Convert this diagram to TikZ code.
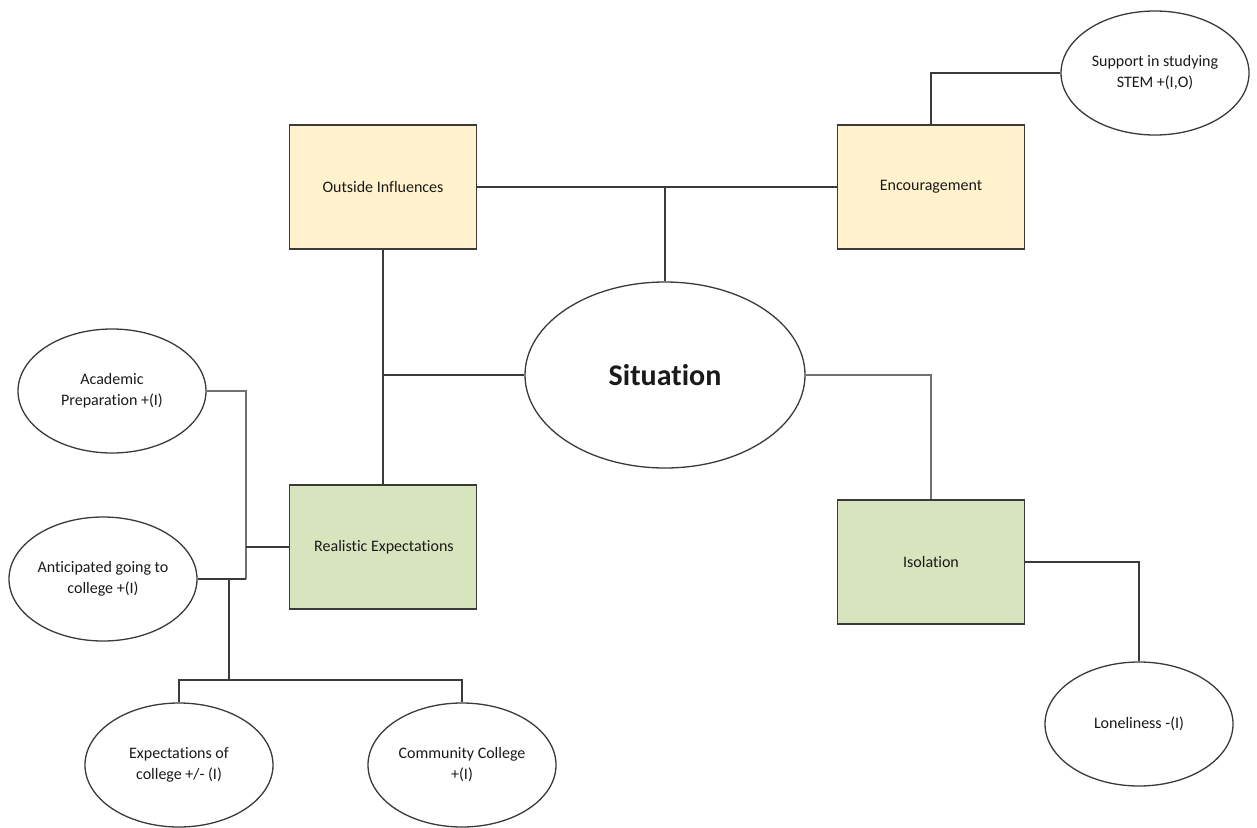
\documentclass[tikz,border=0pt]{standalone}
\usepackage{fontspec}
\setmainfont[Ligatures=NoCommon]{Carlito}
\usetikzlibrary{shapes.geometric}
\definecolor{boxyellow}{HTML}{FFF2CC}
\definecolor{boxgreen}{HTML}{D7E4BD}
\definecolor{edgegray}{HTML}{3A3A3A}
\definecolor{lightgray}{HTML}{707070}
\definecolor{txt}{HTML}{1A1A1A}
\tikzset{
  yellowbox/.style={draw=edgegray, line width=1.6pt, fill=boxyellow, minimum width=187pt, minimum height=124pt, inner sep=0pt, font=\fontsize{16}{19}\selectfont, text=txt},
  greenbox/.style={draw=edgegray, line width=1.6pt, fill=boxgreen, minimum width=187pt, minimum height=124pt, inner sep=0pt, font=\fontsize{16}{19}\selectfont, text=txt},
  smallell/.style={ellipse, draw=edgegray, line width=1.3pt, fill=white, minimum width=188pt, minimum height=124pt, inner sep=0pt, align=center, font=\fontsize{16}{21}\selectfont, text=txt},
  bigell/.style={ellipse, draw=edgegray, line width=1.3pt, fill=white, minimum width=280pt, minimum height=186pt, inner sep=0pt, font=\fontsize{30}{33}\selectfont\bfseries, text=txt},
  conn/.style={draw=edgegray, line width=1.6pt},
  lightconn/.style={draw=lightgray, line width=1.6pt}
}
\begin{document}
\begin{tikzpicture}[x=1pt, y=-1pt]
\useasboundingbox (0,0) rectangle (1257,827);
\fill[white] (0,0) rectangle (1257,827);
% nodes
\node[yellowbox] (oi) at (383,187) {Outside Influences};
\node[yellowbox] (enc) at (931,187) {Encouragement};
\node[bigell] (sit) at (665,375) {Situation};
\node[greenbox] (re) at (383,547) {\hspace*{2pt}Realistic Expectations};
\node[greenbox] (iso) at (931,562) {Isolation};
\node[smallell] (sup) at (1155,73) {Support in studying\\STEM +(I,O)};
\node[smallell] (lon) at (1139,724) {Loneliness -(I)};
\node[smallell] (ap) at (112,391) {Academic\\Preparation +(I)};
\node[smallell] (ant) at (103,579) {Anticipated going to\\college +(I)};
\node[smallell] (exp) at (179,765) {Expectations of\\college +/- (I)};
\node[smallell] (cc) at (462,765) {Community College\\+(I)};
% junctions
\coordinate (j1) at (246,579);
\coordinate (j2) at (229,579);
\coordinate (j3) at (229,680);
% connectors
\draw[conn] (oi.east) -- (enc.west);
\draw[conn] (sit.north) -- (sit.north |- oi.east);
\draw[conn] (oi.south) -- (re.north);
\draw[conn] (sit.west) -- (sit.west -| oi.south);
\draw[lightconn] (sit.east) -| (iso.north);
\draw[conn] (iso.east) -| (lon.north);
\draw[conn] (sup.west) -| (enc.north);
\draw[lightconn] (ap.east) -| (j1);
\draw[conn] (ant.east) -- (j1);
\draw[conn] (j1 |- re.west) -- (re.west);
\draw[conn] (j2) -- (j3);
\draw[conn] (exp.north) |- (j3) -| (cc.north);
\end{tikzpicture}
\end{document}
